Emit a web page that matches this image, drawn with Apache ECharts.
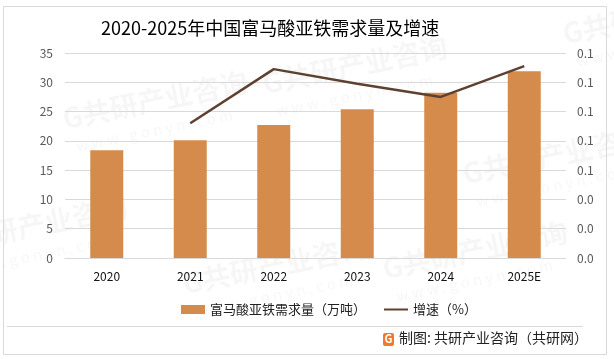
<!DOCTYPE html>
<html>
<head>
<meta charset="utf-8">
<script src="https://cdn.jsdelivr.net/npm/echarts@6/dist/echarts.min.js"></script>
<style>
html,body{margin:0;padding:0;background:#fff;}
#c{width:614px;height:359px;}
</style>
</head>
<body>
<div id="c"></div>
<script>
const categories = ['2020', '2021', '2022', '2023', '2024', '2025E'];
const demand = [18.4, 20.1, 22.7, 25.4, 28.2, 31.9];
const growth = [null, 0.092, 0.129, 0.119, 0.110, 0.131];
const leftTicks = {min: 0, max: 35, interval: 5};
const rightTicks = {min: 0, max: 0.14, interval: 0.02};
const titleText = '2020-2025年中国富马酸亚铁需求量及增速';
const barName = '富马酸亚铁需求量（万吨）';
const lineName = '增速（%）';
const sourceText = '制图: 共研产业咨询（共研网）';

const FONT = '"Noto Sans CJK SC", "Noto Sans", sans-serif';
const chart = echarts.init(document.getElementById('c'), null, {renderer: 'canvas'});

function watermark(x, y) {
  return {
    type: 'group', x: x, y: y, rotation: 0.2, silent: true, z: -10,
    children: [
      {type: 'text', style: {text: 'G共研产业咨询', x: 0, y: 0, fill: 'rgba(0,0,0,0.035)', font: 'bold 28px ' + FONT}},
      {type: 'text', style: {text: 'w w w . g o n y n . c o m', x: 8, y: 36, fill: 'rgba(0,0,0,0.035)', font: '15px ' + FONT}}
    ]
  };
}

const option = {
  backgroundColor: '#fff',
  animation: false,
  title: {
    text: titleText, left: 96, top: 14,
    textStyle: {fontFamily: FONT, fontSize: 18, fontWeight: 'normal', color: '#000'}
  },
  grid: {left: 65, right: 48, top: 53, bottom: 101, containLabel: false},
  legend: {
    top: 298, left: 176, itemGap: 18,
    itemWidth: 24, itemHeight: 9,
    textStyle: {fontFamily: FONT, fontSize: 13, color: '#222'},
    data: [
      {name: barName, icon: 'rect'},
      {name: lineName, icon: 'path://M0,4 L24,4 L24,6 L0,6 Z'}
    ]
  },
  xAxis: {
    type: 'category', data: categories,
    axisLine: {lineStyle: {color: '#d9d9d9'}},
    axisTick: {show: false},
    axisLabel: {fontFamily: FONT, fontSize: 12, color: '#111', margin: 12}
  },
  yAxis: [
    {
      type: 'value', min: leftTicks.min, max: leftTicks.max, interval: leftTicks.interval,
      axisLine: {show: false}, axisTick: {show: false},
      splitLine: {lineStyle: {color: '#d9d9d9'}},
      axisLabel: {fontFamily: FONT, fontSize: 12, color: '#595959', margin: 12}
    },
    {
      type: 'value', min: rightTicks.min, max: rightTicks.max, interval: rightTicks.interval,
      axisLine: {show: false}, axisTick: {show: false}, splitLine: {show: false},
      axisLabel: {fontFamily: FONT, fontSize: 12, color: '#595959', margin: 11,
        formatter: v => v.toFixed(1)}
    }
  ],
  series: [
    {
      name: barName, type: 'bar', data: demand, barWidth: 33,
      itemStyle: {color: '#D48B4C'}
    },
    {
      name: lineName, type: 'line', yAxisIndex: 1, data: growth,
      showSymbol: false, symbol: 'none',
      lineStyle: {color: '#5E4130', width: 2.5},
      itemStyle: {color: '#5E4130'}
    }
  ],
  graphic: [
    watermark(60, 105),
    watermark(260, 70),
    watermark(560, 20),
    watermark(-60, 230),
    watermark(380, 255),
    watermark(180, 270),
    watermark(460, 160),
    {type: 'rect', silent: true, shape: {x: 3.5, y: 6.5, width: 603, height: 348},
      style: {fill: 'none', stroke: '#d9d9d9', lineWidth: 1}},
    {type: 'line', silent: true, shape: {x1: 7, y1: 326.5, x2: 583, y2: 326.5},
      style: {stroke: '#d9d9d9', lineWidth: 1}},
    {type: 'rect', silent: true, shape: {x: 383, y: 333, width: 11, height: 13, r: 2},
      style: {fill: '#F07A28'}},
    {type: 'text', silent: true, style: {text: 'G', x: 384.5, y: 333, fill: '#fff', font: 'bold 11px ' + FONT}},
    {type: 'text', silent: true, style: {text: sourceText, x: 399, y: 331, fill: '#222', font: '14px ' + FONT}}
  ]
};
chart.setOption(option);
</script>
</body>
</html>
